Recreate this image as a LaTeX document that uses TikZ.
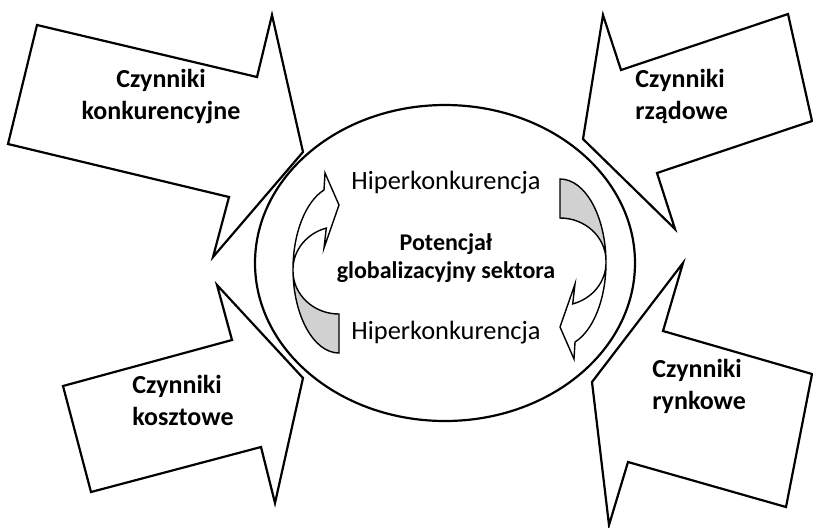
\documentclass[tikz,border=0pt]{standalone}
\usepackage{fontspec}
\setmainfont{Carlito}
\tikzset{
  factor/.style={font=\fontsize{13}{16}\selectfont\bfseries, inner sep=0pt},
  hyper/.style={font=\fontsize{13.2}{16}\selectfont, inner sep=0pt},
  blockarrow/.style={line width=1.1pt, line join=miter},
  bendfront/.style={line width=0.7pt, fill=white},
  bendback/.style={line width=0.7pt, fill=black!18},
}
\begin{document}
\begin{tikzpicture}[x=0.5pt, y=-0.5pt]
    \useasboundingbox (0,0) rectangle (813,527);
    % the sector in the middle
    \draw[line width=1.1pt] (445,263) ellipse[x radius=190, y radius=158];
    % four block arrows pointing at it
    \draw[blockarrow] (37,25) -- (257,77) -- (272,15) -- (303,152)
        -- (213,257) -- (229,197) -- (8,144) -- cycle;
    \draw[blockarrow] (63,386) -- (232,340) -- (217,285) -- (303,378)
        -- (275,503) -- (261,447) -- (91,492) -- cycle;
    \draw[blockarrow] (788,14) -- (621,70) -- (603,15) -- (583,139)
        -- (675,229) -- (657,173) -- (812,121) -- cycle;
    \draw[blockarrow] (812,374) -- (663,331) -- (683,263) -- (592,382)
        -- (609,525) -- (628,462) -- (786,507) -- cycle;
    % two curved arrows, the second one turned round
    \foreach \r in {0,180} {
      \begin{scope}[rotate around={\r:(449.5,266)}]
        \draw[bendback] (293,269) arc[start angle=180, end angle=90, x radius=46, y radius=84]
            -- (339,314) arc[start angle=90, end angle=180, x radius=46, y radius=43] -- cycle;
        \draw[bendfront] (324,190) arc[start angle=-109, end angle=-180, x radius=46, y radius=84]
            arc[start angle=180, end angle=254, x radius=46, y radius=43]
            -- (324,248) -- (339,205) -- (325,173) -- cycle;
      \end{scope}
    }
    % labels
    \node[factor, align=center] (konk) at (161,97) {Czynniki\\konkurencyjne};
    \node[factor, align=left, anchor=west] (rzad) at (635,96) {Czynniki\\rządowe};
    \node[factor, align=left, anchor=west] (koszt) at (132,400) {Czynniki\\kosztowe};
    \node[factor, align=left, anchor=west] (rynek) at (652,386) {Czynniki\\rynkowe};
    \node[hyper] (hip1) at (446,183) {Hiperkonkurencja};
    \node[hyper] (hip2) at (446,333) {Hiperkonkurencja};
    \node[font=\fontsize{12}{14}\selectfont\bfseries, align=center, inner sep=0pt] (pot)
        at (446,258) {Potencjał\\globalizacyjny sektora};
\end{tikzpicture}
\end{document}
